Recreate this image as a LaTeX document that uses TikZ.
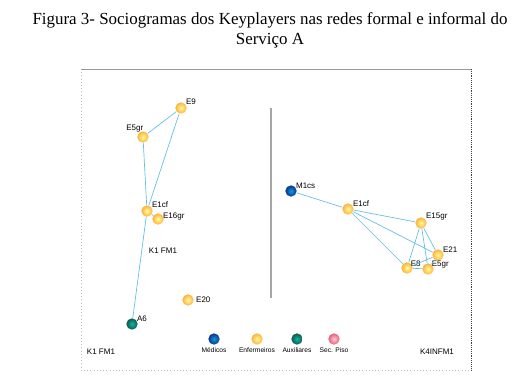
\documentclass[tikz,border=0pt]{standalone}
\usepackage{fontspec}
\setmainfont{Liberation Serif}
\setsansfont{Liberation Sans}
\usetikzlibrary{positioning,shadings}
\definecolor{linkblue}{RGB}{95,190,230}
\definecolor{enfcolor}{RGB}{255,175,60}
\definecolor{medcolor}{RGB}{20,60,180}
\definecolor{auxcolor}{RGB}{20,110,90}
\definecolor{seccolor}{RGB}{235,90,120}

\begin{document}
\begin{tikzpicture}[
    x=0.75pt, y=-0.75pt,
    actor/.style={circle, inner sep=0pt, minimum size=8.5pt, shading=radial},
    enf/.style={actor, inner color=yellow!40!white, outer color=enfcolor},
    med/.style={actor, inner color=medcolor!50!cyan, outer color=medcolor!80!black},
    aux/.style={actor, inner color=auxcolor!50!cyan, outer color=auxcolor!80!black},
    sec/.style={actor, inner color=seccolor!30!white, outer color=seccolor},
    lbl/.style={font=\sffamily\fontsize{6}{7}\selectfont, inner sep=0.5pt},
    leg/.style={font=\sffamily\fontsize{5}{6}\selectfont, inner sep=0.5pt},
    link/.style={draw=linkblue, line width=0.5pt}
]
    \useasboundingbox (0,0) rectangle (529,375);

    % Titulo
    \node[font=\fontsize{12.7}{15}\selectfont, align=center] (titulo) at (270,30)
        {Figura 3- Sociogramas dos Keyplayers nas redes formal e informal do\\Servi\c{c}o A};

    % Moldura
    \coordinate (nw) at (81,69);
    \coordinate (ne) at (471,69);
    \coordinate (sw) at (81,370);
    \coordinate (se) at (471,370);
    \draw[gray!50, dotted] (nw) -- (sw) -- (se);
    \draw[gray!80] (nw) -- (ne);
    \draw[black!75, densely dotted] (ne) -- (se);
    \coordinate (divtop) at (271,108);
    \coordinate (divbot) at (271,298);
    \draw[gray!70, line width=1pt] (divtop) -- (divbot);

    % Rede formal
    \node[enf] (e9) at (181,108) {};
    \node[enf] (e5gr) at (143,137) {};
    \node[enf] (e1cf) at (147,211) {};
    \node[enf] (e16gr) at (158,219) {};
    \node[aux] (a6) at (132,324) {};
    \node[enf] (e20) at (188,300) {};

    \node[lbl, above right=-1pt and 0pt of e9] (e9l) {E9};
    \node[lbl, above left=0pt and -4pt of e5gr] (e5grl) {E5gr};
    \node[lbl, above right=-1pt and 0pt of e1cf] (e1cfl) {E1cf};
    \node[lbl, above right=-5pt and 0pt of e16gr] (e16grl) {E16gr};
    \node[lbl, above right=-2pt and 0pt of a6] (a6l) {A6};
    \node[lbl, right=1pt of e20] (e20l) {E20};
    \node[lbl] (k1) at (163,251) {K1 FM1};

    \draw[link] (e9) -- (e5gr);
    \draw[link] (e9) -- (e1cf);
    \draw[link] (e5gr) -- (e1cf);
    \draw[link] (e1cf) -- (e16gr);
    \draw[link] (e1cf) -- (a6);

    % Rede informal
    \node[med] (m1cs) at (291,191) {};
    \node[enf] (f1cf) at (348,209) {};
    \node[enf] (f15gr) at (421,223) {};
    \node[enf] (f21) at (438,255) {};
    \node[enf] (f8) at (407,268) {};
    \node[enf] (f5gr) at (428,269) {};

    \node[lbl, above right=-2pt and 0pt of m1cs] (m1csl) {M1cs};
    \node[lbl, above right=-2pt and 0pt of f1cf] (f1cfl) {E1cf};
    \node[lbl, above right=-2pt and 0pt of f15gr] (f15grl) {E15gr};
    \node[lbl, above right=-2pt and 0pt of f21] (f21l) {E21};
    \node[lbl, above right=-3pt and -1pt of f8] (f8l) {E8};
    \node[lbl, above right=-3pt and -1pt of f5gr] (f5grl) {E5gr};

    \draw[link] (m1cs) -- (f1cf);
    \draw[link] (f1cf) -- (f15gr);
    \draw[link] (f1cf) -- (f21);
    \draw[link] (f1cf) -- (f8);
    \draw[link] (f15gr) -- (f8);
    \draw[link] (f15gr) -- (f5gr);
    \draw[link] (f15gr) -- (f21);
    \draw[link] (f21) -- (f8);
    \draw[link] (f21) -- (f5gr);
    \draw[link] (f8) -- (f5gr);

    % Legenda
    \node[lbl] (k1b) at (101,352) {K1 FM1};
    \node[lbl] (k4) at (437,352) {K4INFM1};
    \node[med] (lmed) at (214,339) {};
    \node[enf] (lenf) at (257,339) {};
    \node[aux] (laux) at (297,339) {};
    \node[sec] (lsec) at (334,339) {};
    \node[leg, below=1pt of lmed] (lmedl) {M\'edicos};
    \node[leg, below=1pt of lenf] (lenfl) {Enfermeiros};
    \node[leg, below=1pt of laux] (lauxl) {Auxiliares};
    \node[leg, below=1pt of lsec] (lsecl) {Sec. Piso};
\end{tikzpicture}
\end{document}
